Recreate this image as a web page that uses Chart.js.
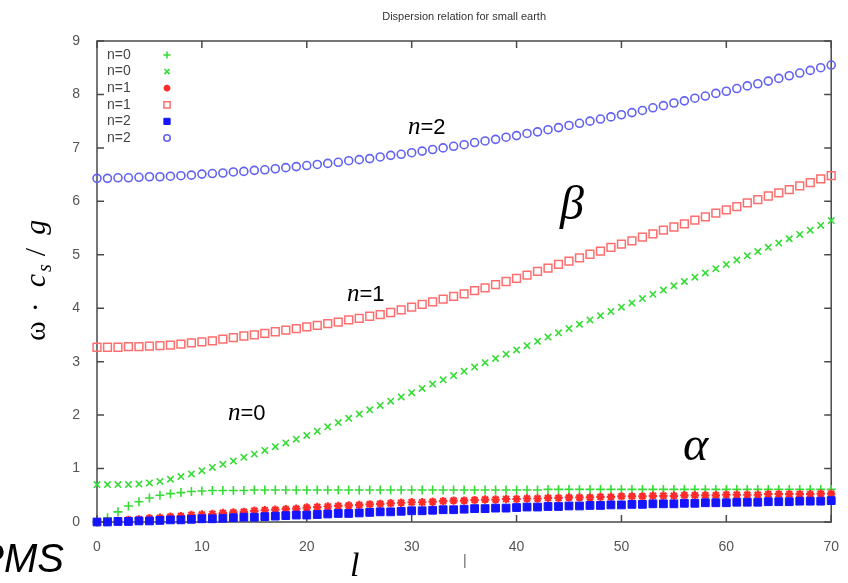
<!DOCTYPE html>
<html>
<head>
<meta charset="utf-8">
<script src="https://cdn.jsdelivr.net/npm/chart.js@4.4.0/dist/chart.umd.min.js"></script>
<style>
  html, body { margin: 0; padding: 0; background: #fff; }
  canvas { display: block; }
</style>
</head>
<body>
<canvas id="myChart" width="848" height="583"></canvas>
<script>
// angular degree l
const ls = [
  0, 1, 2, 3, 4, 5, 6, 7, 8, 9,
  10, 11, 12, 13, 14, 15, 16, 17, 18, 19,
  20, 21, 22, 23, 24, 25, 26, 27, 28, 29,
  30, 31, 32, 33, 34, 35, 36, 37, 38, 39,
  40, 41, 42, 43, 44, 45, 46, 47, 48, 49,
  50, 51, 52, 53, 54, 55, 56, 57, 58, 59,
  60, 61, 62, 63, 64, 65, 66, 67, 68, 69,
  70
];

// n=0, lower branch (+)
const n0plus = [
  0.00, 0.08, 0.19, 0.30, 0.38, 0.45, 0.50, 0.53, 0.55, 0.57,
  0.58, 0.59, 0.59, 0.59, 0.59, 0.60, 0.60, 0.60, 0.60, 0.60,
  0.60, 0.60, 0.60, 0.60, 0.60, 0.60, 0.60, 0.60, 0.60, 0.60,
  0.60, 0.60, 0.60, 0.60, 0.60, 0.60, 0.60, 0.60, 0.60, 0.60,
  0.60, 0.60, 0.60, 0.61, 0.61, 0.61, 0.61, 0.61, 0.61, 0.61,
  0.61, 0.61, 0.61, 0.61, 0.61, 0.61, 0.61, 0.61, 0.61, 0.61,
  0.61, 0.61, 0.61, 0.61, 0.61, 0.61, 0.61, 0.61, 0.61, 0.61,
  0.61
];

// n=0, upper branch (x)
const n0cross = [
  0.70, 0.70, 0.70, 0.70, 0.71, 0.73, 0.76, 0.80, 0.85, 0.90,
  0.96, 1.02, 1.08, 1.14, 1.21, 1.27, 1.34, 1.41, 1.48, 1.55,
  1.62, 1.70, 1.78, 1.86, 1.94, 2.02, 2.10, 2.18, 2.26, 2.34,
  2.42, 2.50, 2.58, 2.66, 2.74, 2.82, 2.90, 2.98, 3.06, 3.14,
  3.22, 3.30, 3.38, 3.46, 3.54, 3.62, 3.70, 3.78, 3.86, 3.94,
  4.02, 4.10, 4.18, 4.26, 4.34, 4.42, 4.50, 4.58, 4.66, 4.74,
  4.82, 4.90, 4.98, 5.06, 5.14, 5.22, 5.30, 5.38, 5.46, 5.55,
  5.64
];

// n=1, lower branch (*)
const n1star = [
  0.00, 0.01, 0.02, 0.04, 0.05, 0.07, 0.08, 0.10, 0.11, 0.13,
  0.14, 0.15, 0.17, 0.18, 0.19, 0.21, 0.22, 0.23, 0.24, 0.25,
  0.27, 0.28, 0.29, 0.30, 0.31, 0.32, 0.33, 0.34, 0.35, 0.36,
  0.37, 0.37, 0.38, 0.39, 0.40, 0.40, 0.41, 0.42, 0.42, 0.43,
  0.43, 0.44, 0.44, 0.45, 0.45, 0.46, 0.46, 0.46, 0.47, 0.47,
  0.48, 0.48, 0.48, 0.49, 0.49, 0.49, 0.50, 0.50, 0.50, 0.50,
  0.51, 0.51, 0.51, 0.51, 0.52, 0.52, 0.52, 0.52, 0.52, 0.53,
  0.53
];

// n=1, upper branch (open square)
const n1box = [
  3.27, 3.27, 3.27, 3.28, 3.28, 3.29, 3.30, 3.31, 3.33, 3.35,
  3.37, 3.39, 3.42, 3.45, 3.48, 3.50, 3.53, 3.56, 3.59, 3.62,
  3.65, 3.68, 3.71, 3.74, 3.78, 3.81, 3.85, 3.88, 3.92, 3.97,
  4.02, 4.07, 4.12, 4.17, 4.22, 4.27, 4.33, 4.38, 4.44, 4.50,
  4.56, 4.62, 4.69, 4.75, 4.82, 4.88, 4.94, 5.01, 5.07, 5.14,
  5.20, 5.26, 5.33, 5.39, 5.46, 5.52, 5.58, 5.65, 5.71, 5.78,
  5.84, 5.90, 5.97, 6.03, 6.10, 6.16, 6.22, 6.29, 6.35, 6.42,
  6.48
];

// n=2, lower branch (filled square)
const n2fill = [
  0.00, 0.00, 0.01, 0.01, 0.02, 0.02, 0.03, 0.04, 0.04, 0.05,
  0.06, 0.06, 0.07, 0.08, 0.09, 0.09, 0.10, 0.11, 0.12, 0.13,
  0.13, 0.14, 0.15, 0.16, 0.16, 0.17, 0.18, 0.19, 0.19, 0.20,
  0.21, 0.21, 0.22, 0.23, 0.23, 0.24, 0.25, 0.25, 0.26, 0.26,
  0.27, 0.28, 0.28, 0.29, 0.29, 0.30, 0.30, 0.31, 0.31, 0.32,
  0.32, 0.33, 0.33, 0.34, 0.34, 0.34, 0.35, 0.35, 0.36, 0.36,
  0.36, 0.37, 0.37, 0.37, 0.38, 0.38, 0.38, 0.39, 0.39, 0.39,
  0.40
];

// n=2, upper branch (open circle)
const n2ring = [
  6.43, 6.43, 6.44, 6.44, 6.45, 6.46, 6.46, 6.47, 6.48, 6.49,
  6.51, 6.52, 6.53, 6.55, 6.56, 6.58, 6.59, 6.61, 6.63, 6.65,
  6.67, 6.69, 6.71, 6.73, 6.76, 6.78, 6.80, 6.83, 6.86, 6.88,
  6.91, 6.94, 6.97, 7.00, 7.03, 7.06, 7.10, 7.13, 7.16, 7.20,
  7.23, 7.27, 7.30, 7.34, 7.38, 7.42, 7.46, 7.50, 7.54, 7.58,
  7.62, 7.66, 7.70, 7.75, 7.79, 7.84, 7.88, 7.93, 7.97, 8.02,
  8.06, 8.11, 8.16, 8.20, 8.25, 8.30, 8.35, 8.40, 8.45, 8.50,
  8.55
];

const seriesLabels = ['n=0', 'n=0', 'n=1', 'n=1', 'n=2', 'n=2'];
const seriesValues = [n0plus, n0cross, n1star, n1box, n2fill, n2ring];

const styles = [
  { pointStyle: 'cross',    color: '#36dc36', fill: 'transparent', radius: 4.5, width: 1.6 },
  { pointStyle: 'crossRot', color: '#36dc36', fill: 'transparent', radius: 4.5, width: 1.6 },
  { pointStyle: 'star',     color: '#ff2a2a', fill: 'transparent', radius: 4.2, width: 2.2 },
  { pointStyle: 'rect',     color: '#ff6e6e', fill: 'transparent', radius: 5.5, width: 1.5 },
  { pointStyle: 'rect',     color: '#1414ff', fill: '#1414ff',     radius: 5.5, width: 1 },
  { pointStyle: 'circle',   color: '#6262f2', fill: 'transparent', radius: 4,   width: 1.6 }
];

const SERIF = '"Liberation Serif", "DejaVu Serif", serif';
const SANS = '"Liberation Sans", Arial, sans-serif';

const datasets = seriesValues.map((vals, i) => ({
  label: seriesLabels[i],
  data: ls.map((l, k) => ({ x: l, y: vals[k] })),
  showLine: false,
  pointStyle: styles[i].pointStyle,
  pointRadius: styles[i].radius,
  pointBorderWidth: styles[i].width,
  borderColor: styles[i].color,
  backgroundColor: styles[i].fill,
  pointBackgroundColor: styles[i].fill,
  order: 6 - i,
  clip: false
}));

// frame with inward ticks on all four sides
const framePlugin = {
  id: 'frame',
  beforeDatasetsDraw(chart) {
    const { ctx, chartArea: a, scales: { x, y } } = chart;
    ctx.save();
    ctx.strokeStyle = '#4a4a4a';
    ctx.lineWidth = 1.5;
    ctx.strokeRect(a.left, a.top, a.right - a.left, a.bottom - a.top);
    ctx.beginPath();
    x.ticks.forEach(t => {
      const px = x.getPixelForValue(t.value);
      ctx.moveTo(px, a.bottom); ctx.lineTo(px, a.bottom - 7);
      ctx.moveTo(px, a.top); ctx.lineTo(px, a.top + 7);
    });
    y.ticks.forEach(t => {
      const py = y.getPixelForValue(t.value);
      ctx.moveTo(a.left, py); ctx.lineTo(a.left + 7, py);
      ctx.moveTo(a.right, py); ctx.lineTo(a.right - 7, py);
    });
    ctx.stroke();
    ctx.restore();
  }
};

function drawMarker(ctx, st, px, py, r) {
  ctx.save();
  ctx.strokeStyle = st.color;
  ctx.fillStyle = st.fill;
  ctx.lineWidth = st.width;
  Chart.helpers.drawPoint(ctx, { pointStyle: st.pointStyle, radius: r, borderWidth: st.width, rotation: 0 }, px, py);
  ctx.restore();
}

// a run of text pieces, each with own font and offset
function drawRuns(ctx, runs, x0, y0) {
  let x = x0;
  runs.forEach(r => {
    ctx.font = r.font;
    ctx.fillText(r.text, x + (r.dx || 0), y0 + (r.dy || 0));
    x += ctx.measureText(r.text).width + (r.gap || 0);
  });
}

const textPlugin = {
  id: 'texts',
  afterDraw(chart) {
    const { ctx, chartArea: a } = chart;
    ctx.save();

    // title
    ctx.fillStyle = '#333';
    ctx.font = '11px ' + SANS;
    ctx.textAlign = 'center';
    ctx.textBaseline = 'alphabetic';
    ctx.fillText('Dispersion relation for small earth', (a.left + a.right) / 2, 20);

    // legend, text left, marker right
    ctx.textAlign = 'left';
    ctx.textBaseline = 'middle';
    chart.data.datasets.forEach((ds, i) => {
      const yy = a.top + 14 + i * 16.6;
      ctx.fillStyle = '#444';
      ctx.font = '14px ' + SANS;
      ctx.fillText(ds.label, a.left + 10, yy);
      drawMarker(ctx, styles[i], a.left + 70, yy, styles[i].radius * 0.8);
    });

    ctx.fillStyle = '#000';
    ctx.textBaseline = 'alphabetic';

    // curve labels
    const nLabel = (num, x0, y0) => drawRuns(ctx, [
      { text: 'n', font: 'italic 25px ' + SERIF, gap: 0 },
      { text: '=' + num, font: '22px ' + SANS }
    ], x0, y0);
    nLabel('2', 408, 134);
    nLabel('1', 347, 301);
    nLabel('0', 228, 420);

    ctx.font = 'italic 48px ' + SERIF;
    ctx.fillText('\u03b2', 560, 219);
    ctx.fillText('\u03b1', 683, 460);

    // y axis title, rotated
    ctx.save();
    ctx.translate(45, 341);
    ctx.rotate(-Math.PI / 2);
    drawRuns(ctx, [
      { text: '\u03c9', font: '30px ' + SERIF, gap: 9 },
      { text: '\u00b7', font: '30px ' + SERIF, gap: 15 },
      { text: 'c', font: 'italic 30px ' + SERIF, gap: 2 },
      { text: 's', font: 'italic 20px ' + SERIF, dy: 6, gap: 8 },
      { text: '/', font: '30px ' + SERIF, gap: 13 },
      { text: 'g', font: 'italic 30px ' + SERIF }
    ], 0, 0);
    ctx.restore();

    // x axis title
    ctx.font = 'italic 34px ' + SERIF;
    ctx.fillText('l', 350, 576);

    ctx.fillStyle = '#666';
    ctx.font = '14px ' + SANS;
    ctx.fillText('|', 463, 565);

    // cut-off caption at the bottom left
    ctx.fillStyle = '#000';
    ctx.font = 'italic 40px ' + SANS;
    ctx.textAlign = 'right';
    ctx.fillText('PMS', 64, 572);

    ctx.restore();
  }
};

new Chart(document.getElementById('myChart').getContext('2d'), {
  type: 'scatter',
  data: { datasets },
  options: {
    responsive: false,
    animation: false,
    devicePixelRatio: 1,
    layout: { padding: { top: 41, right: 13, left: 0, bottom: 0 } },
    plugins: {
      legend: { display: false },
      title: { display: false },
      tooltip: { enabled: false }
    },
    scales: {
      x: {
        type: 'linear',
        min: 0,
        max: 70,
        ticks: { stepSize: 10, color: '#555', padding: 9, font: { family: SANS, size: 14 }, maxRotation: 0 },
        grid: { display: false },
        border: { display: false },
        afterFit(scale) { scale.height = 61; }
      },
      y: {
        type: 'linear',
        min: 0,
        max: 9,
        ticks: { stepSize: 1, color: '#555', padding: 9, font: { family: SANS, size: 14 } },
        grid: { display: false },
        border: { display: false },
        afterFit(scale) { scale.width = 97; }
      }
    }
  },
  plugins: [framePlugin, textPlugin]
});
</script>
</body>
</html>
